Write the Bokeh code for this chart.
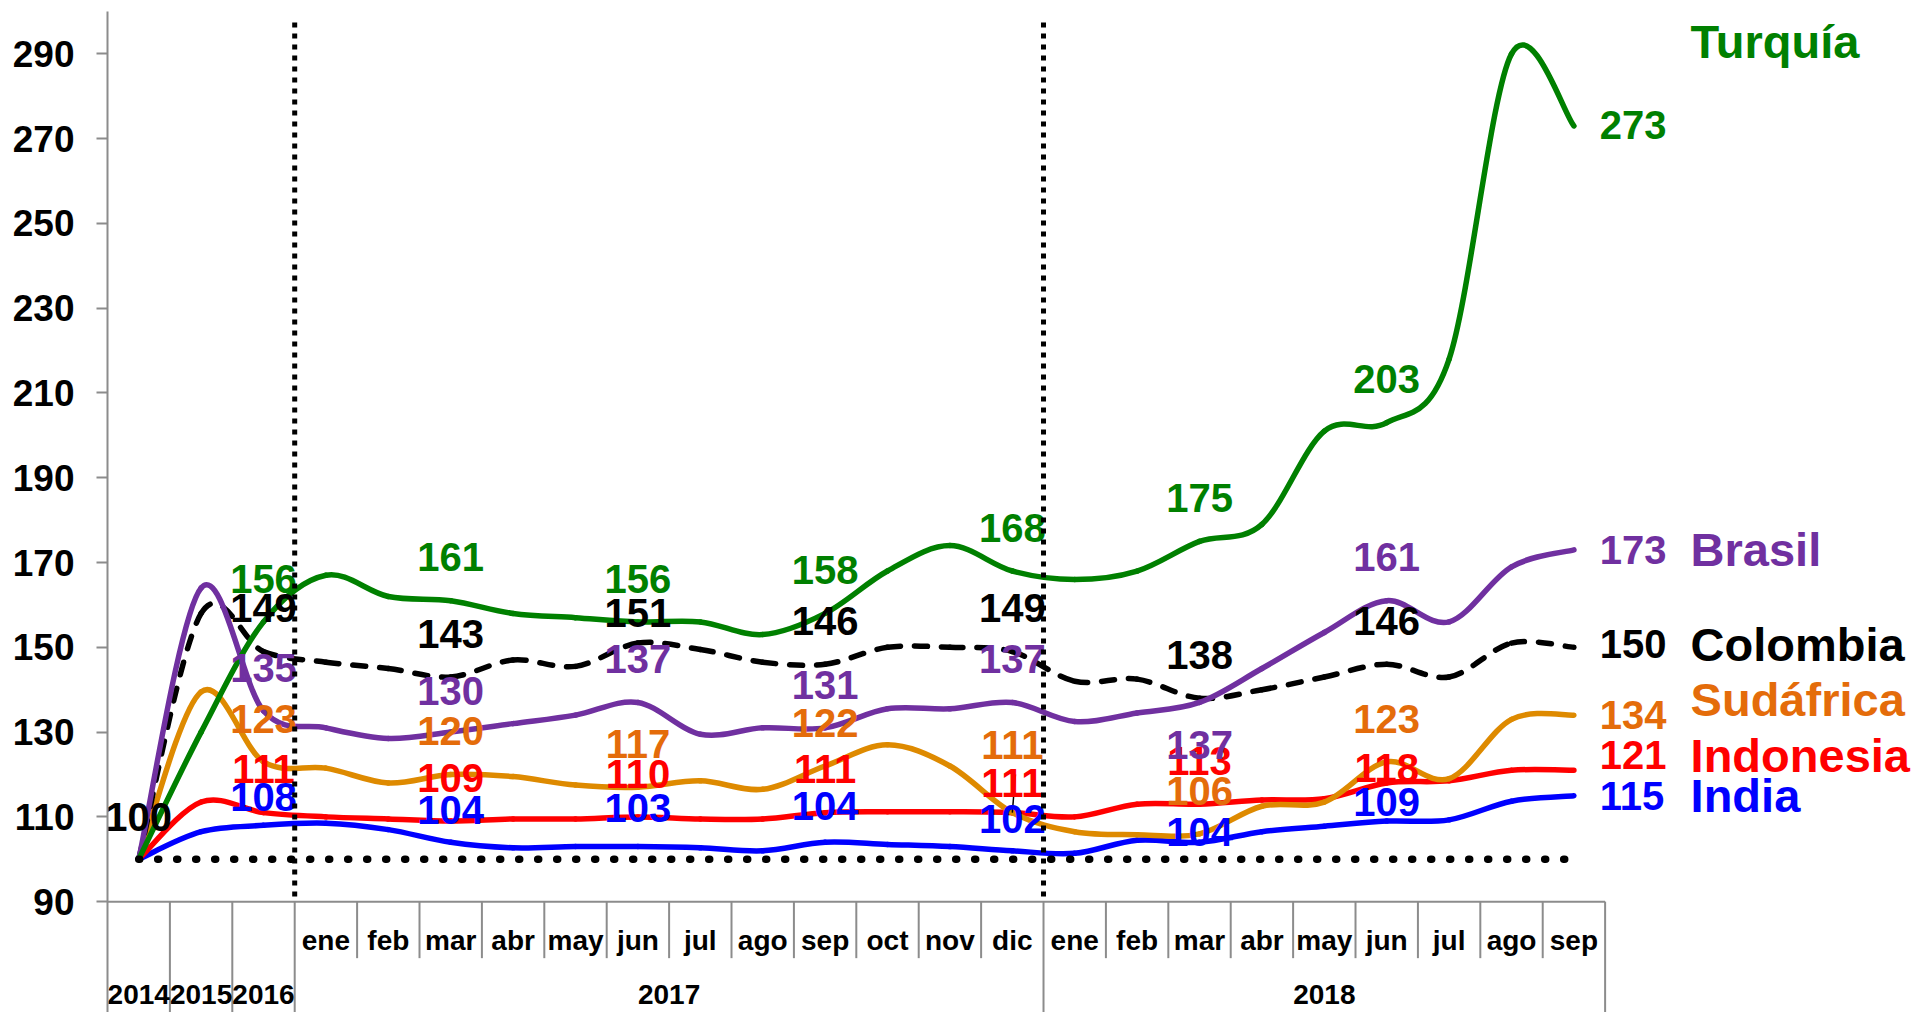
from bokeh.plotting import figure
from bokeh.models import Range1d, FixedTicker, ColumnDataSource
from bokeh.core.properties import value
from bokeh.embed import file_html
from bokeh.resources import INLINE

# ---------------- data ----------------
categories = ["2014", "2015", "2016",
              "ene", "feb", "mar", "abr", "may", "jun", "jul", "ago", "sep", "oct", "nov", "dic",
              "ene", "feb", "mar", "abr", "may", "jun", "jul", "ago", "sep"]
year_labels = ["2014", "2015", "2016", "2017", "2018"]
year_centers = [0, 1, 2, 8.5, 19]

turquia   = [100, 130, 156, 167, 162, 161, 158, 157, 156, 156, 153, 158, 168, 174, 168,
             166, 168, 175, 179, 201, 203, 218, 290, 273]
brasil    = [100, 164, 135, 131, 128.5, 130, 132, 134, 137, 129.5, 131, 131, 135.5, 135.5, 137,
             132.5, 134.5, 137, 145, 153.5, 161, 156, 169, 173]
colombia  = [100, 158, 149, 146.5, 145, 143, 147, 145.5, 151, 149.5, 146.5, 146, 150, 150, 149,
             142, 142.5, 138, 140, 143, 146, 143, 151, 150]
sudafrica = [100, 139.5, 123, 121.5, 118, 120, 119.5, 117.5, 117, 118.5, 116.5, 122, 127, 122, 111,
             106.5, 105.8, 106, 112.5, 113.5, 123, 119, 133, 134]
indonesia = [100, 113.5, 111, 110, 109.5, 109, 109.5, 109.5, 110, 109.5, 109.5, 111, 111.2, 111.2, 111,
             110, 113, 113, 114, 114.3, 118, 118.5, 121, 121]
india     = [100, 106.5, 108, 108.5, 107, 104, 102.7, 103, 103, 102.7, 102, 104, 103.5, 103, 102,
             101.4, 104.5, 104, 106.5, 107.8, 109, 109.3, 113.7, 115]

series_names = ["India", "Indonesia", "Sudáfrica", "Colombia", "Brasil", "Turquía"]
series_values = [india, indonesia, sudafrica, colombia, brasil, turquia]

# ---------------- styling / layout ----------------
line_colors = {"Turquía": "#008000", "Brasil": "#7030A0", "Colombia": "#000000",
               "Sudáfrica": "#DE8A00", "Indonesia": "#FF0000", "India": "#0000FF"}
text_colors = {"Turquía": "#008000", "Brasil": "#7030A0", "Colombia": "#000000",
               "Sudáfrica": "#E46C0A", "Indonesia": "#FF0000", "India": "#0000FF"}
label_idx = [2, 5, 8, 11, 14, 17, 20]
default_off = 10.2
label_off = {
    "Colombia": {8: 7.0},
    "India": {2: 6.6, 5: 7.6, 8: 9.0, 11: 8.5, 14: 7.6, 17: 2.4, 20: 4.6},
    "Brasil": {5: 9.6, 17: -10.0},
    "Sudáfrica": {14: 15.9},
    "Indonesia": {14: 7.0, 20: 3.6},
}
end_val_off = {"Turquía": 0.3, "Brasil": 0.0, "Colombia": 0.7, "Sudáfrica": 0.0,
               "Indonesia": 3.5, "India": 0.0}
end_name_off = {"Turquía": 20.0, "Brasil": 0.0, "Colombia": 0.7, "Sudáfrica": 3.8,
                "Indonesia": 3.5, "India": 0.0}

Y0, Y1 = 63.85, 300
FONT = value("Liberation Sans")
GREY = "#8c8c8c"

p = figure(frame_width=1807, frame_height=1001,
           x_range=Range1d(-0.5, 28.458), y_range=Range1d(Y0, Y1),
           x_axis_type=None, output_backend="svg", toolbar_location=None,
           min_border_left=107, min_border_right=0, min_border_top=11, min_border_bottom=0)
p.outline_line_color = None
p.xgrid.visible = False
p.ygrid.visible = False
p.background_fill_color = "white"

ya = p.yaxis[0]
ya.ticker = FixedTicker(ticks=list(range(90, 300, 20)))
ya.bounds = (Y0, Y1)
ya.axis_line_color = GREY
ya.axis_line_width = 2
ya.major_tick_line_color = GREY
ya.major_tick_line_width = 2
ya.major_tick_out = 11
ya.major_tick_in = 0
ya.minor_tick_line_color = None
ya.major_label_text_font = "Liberation Sans"
ya.major_label_text_font_style = "bold"
ya.major_label_text_font_size = "37px"
ya.major_label_text_color = "black"
ya.major_label_standoff = 22

n = len(categories)
xs = list(range(n))

# category axis (drawn with glyphs through data scales)
p.segment(x0=[-0.5], y0=[90], x1=[n - 0.5], y1=[90], line_color=GREY, line_width=2)
month_bounds = [i + 0.5 for i in range(3, 23) if i != 14]
p.segment(x0=month_bounds, y0=[90] * len(month_bounds), x1=month_bounds,
          y1=[76.67] * len(month_bounds), line_color=GREY, line_width=2)
group_bounds = [0.5, 1.5, 2.5, 14.5, n - 0.5]
p.segment(x0=group_bounds, y0=[90] * len(group_bounds), x1=group_bounds,
          y1=[Y0] * len(group_bounds), line_color=GREY, line_width=2)
p.text(x=xs[3:], y=[80.78] * (n - 3), text=categories[3:], text_font=FONT,
       text_font_style="bold", text_font_size="28px", text_color="black",
       text_align="center", text_baseline="middle")
p.text(x=year_centers, y=[68.0] * len(year_centers), text=year_labels, text_font=FONT,
       text_font_style="bold", text_font_size="28px", text_color="black",
       text_align="center", text_baseline="middle")


def bezier_source(vals):
    m = len(vals)
    d = dict(x0=[], y0=[], x1=[], y1=[], cx0=[], cy0=[], cx1=[], cy1=[])
    for i in range(m - 1):
        a, b = max(i - 1, 0), min(i + 2, m - 1)
        d["x0"].append(i); d["y0"].append(vals[i])
        d["x1"].append(i + 1); d["y1"].append(vals[i + 1])
        d["cx0"].append(i + (i + 1 - a) / 6); d["cy0"].append(vals[i] + (vals[i + 1] - vals[a]) / 6)
        d["cx1"].append(i + 1 - (b - i) / 6); d["cy1"].append(vals[i + 1] - (vals[b] - vals[i]) / 6)
    return ColumnDataSource(d)


for name, vals in zip(series_names, series_values):
    kw = dict(line_color=line_colors[name], line_width=5.5, line_cap="round", line_join="round")
    if name == "Colombia":
        kw["line_dash"] = "13 14"
    p.bezier(x0="x0", y0="y0", x1="x1", y1="y1", cx0="cx0", cy0="cy0", cx1="cx1", cy1="cy1",
             source=bezier_source(vals), **kw)

# leader line for the Sudáfrica "dic" label
p.segment(x0=[14], y0=[sudafrica[14]], x1=[14.05], y1=[sudafrica[14] + 9],
          line_color="black", line_width=1.5)

# data labels
lx, ly, lt, lc = [0], [colombia[0] + 9.9], [str(colombia[0])], ["black"]
for name, vals in zip(series_names, series_values):
    for i in label_idx:
        off = label_off.get(name, {}).get(i, default_off)
        lx.append(i); ly.append(vals[i] + off)
        lt.append(str(int(round(vals[i])))); lc.append(text_colors[name])
p.text(x="x", y="y", text="t", text_color="c",
       source=ColumnDataSource(dict(x=lx, y=ly, t=lt, c=lc)),
       text_font=FONT, text_font_style="bold", text_font_size="40px",
       text_align="center", text_baseline="middle")

# end labels
ex, ey, et, ec = [], [], [], []
nx, ny, nt, nc = [], [], [], []
for name, vals in zip(series_names, series_values):
    ex.append(23.415); ey.append(vals[-1] + end_val_off[name])
    et.append(str(int(round(vals[-1])))); ec.append(text_colors[name])
    nx.append(24.87); ny.append(vals[-1] + end_name_off[name])
    nt.append(name); nc.append(text_colors[name])
p.text(x="x", y="y", text="t", text_color="c",
       source=ColumnDataSource(dict(x=ex, y=ey, t=et, c=ec)),
       text_font=FONT, text_font_style="bold", text_font_size="40px",
       text_align="left", text_baseline="middle")
p.text(x="x", y="y", text="t", text_color="c",
       source=ColumnDataSource(dict(x=nx, y=ny, t=nt, c=nc)),
       text_font=FONT, text_font_style="bold", text_font_size="47px",
       text_align="left", text_baseline="middle")

# reference lines (drawn on top)
p.segment(x0=[0], y0=[100], x1=[n - 1], y1=[100], line_color="black", line_width=7.5,
          line_dash="1 18", line_cap="round")
p.segment(x0=[2.5, 14.5], y0=[297.4, 297.4], x1=[2.5, 14.5], y1=[90, 90],
          line_color="black", line_width=5, line_dash="5 6")

open("out.html", "w").write(file_html(p, INLINE))
